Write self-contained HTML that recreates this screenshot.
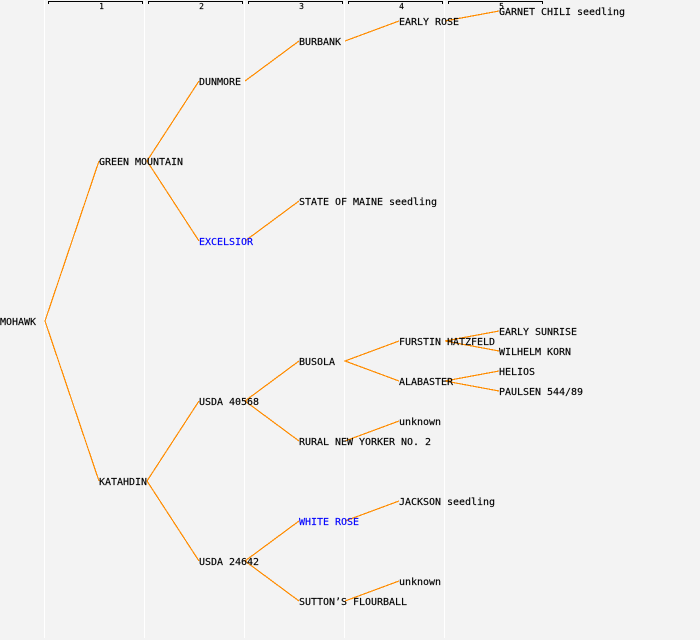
<!DOCTYPE html>
<html>
<head>
<meta charset="utf-8">
<style>
html,body{margin:0;padding:0;background:#f3f3f3;}
svg{display:block;}
text{font-family:"DejaVu Sans Mono","Liberation Mono",monospace;font-size:10px;letter-spacing:-0.02px;fill:#000;stroke:#000;stroke-width:.15;white-space:pre;}
.n{font-size:8px;letter-spacing:0;text-anchor:middle;}
.b{fill:#0000ff;stroke:#0000ff;}
.l{stroke:#ff8c00;stroke-width:1.2;fill:none;shape-rendering:crispEdges;}
.v{stroke:#ffffff;stroke-width:1;shape-rendering:crispEdges;}
.h{stroke:#000;stroke-width:1;fill:none;shape-rendering:crispEdges;}
</style>
</head>
<body>
<svg width="700" height="640" viewBox="0 0 700 640" xmlns="http://www.w3.org/2000/svg">
<rect width="700" height="640" fill="#f3f3f3"/>
<g class="v">
<line x1="44.5" y1="0" x2="44.5" y2="638"/>
<line x1="144.5" y1="0" x2="144.5" y2="638"/>
<line x1="244.5" y1="0" x2="244.5" y2="638"/>
<line x1="344.5" y1="0" x2="344.5" y2="638"/>
<line x1="444.5" y1="0" x2="444.5" y2="638"/>
</g>
<g class="h">
<path d="M48.5 4V1.500H142.500V4"/>
<path d="M148.500 4V1.500H242.500V4"/>
<path d="M248.500 4V1.500H342.500V4"/>
<path d="M348.500 4V1.500H442.500V4"/>
<path d="M448.500 4V1.500H542.500V4"/>
</g>
<text class="n" x="101.500" y="9">1</text>
<text class="n" x="201.500" y="9">2</text>
<text class="n" x="301.500" y="9">3</text>
<text class="n" x="401.500" y="9">4</text>
<text class="n" x="501.500" y="9">5</text>
<g class="l">
<path d="M99 161L45 321L99 481"/>
<path d="M199 81L147 161L199 241"/>
<path d="M299 41L245 81"/>
<path d="M399 21L345 41"/>
<path d="M499 11L445 21"/>
<path d="M299 201L245 241"/>
<path d="M199 401L147 481L199 561"/>
<path d="M299 361L245 401L299 441"/>
<path d="M399 341L345 361L399 381"/>
<path d="M499 331L445 341L499 351"/>
<path d="M499 371L445 381L499 391"/>
<path d="M399 421L345 441"/>
<path d="M299 521L245 561L299 601"/>
<path d="M399 501L345 521"/>
<path d="M399 581L345 601"/>
</g>
<text x="0" y="325">MOHAWK</text>
<text x="99" y="165">GREEN MOUNTAIN</text>
<text x="99" y="485">KATAHDIN</text>
<text x="199" y="85">DUNMORE</text>
<text class="b" x="199" y="245">EXCELSIOR</text>
<text x="199" y="405">USDA 40568</text>
<text x="199" y="565">USDA 24642</text>
<text x="299" y="45">BURBANK</text>
<text x="299" y="205">STATE OF MAINE seedling</text>
<text x="299" y="365">BUSOLA</text>
<text x="299" y="445">RURAL NEW YORKER NO. 2</text>
<text class="b" x="299" y="525">WHITE ROSE</text>
<text x="299" y="605">SUTTON’S FLOURBALL</text>
<text x="399" y="25">EARLY ROSE</text>
<text x="399" y="345">FURSTIN HATZFELD</text>
<text x="399" y="385">ALABASTER</text>
<text x="399" y="425">unknown</text>
<text x="399" y="505">JACKSON seedling</text>
<text x="399" y="585">unknown</text>
<text x="499" y="15">GARNET CHILI seedling</text>
<text x="499" y="335">EARLY SUNRISE</text>
<text x="499" y="355">WILHELM KORN</text>
<text x="499" y="375">HELIOS</text>
<text x="499" y="395">PAULSEN 544/89</text>
</svg>
</body>
</html>
